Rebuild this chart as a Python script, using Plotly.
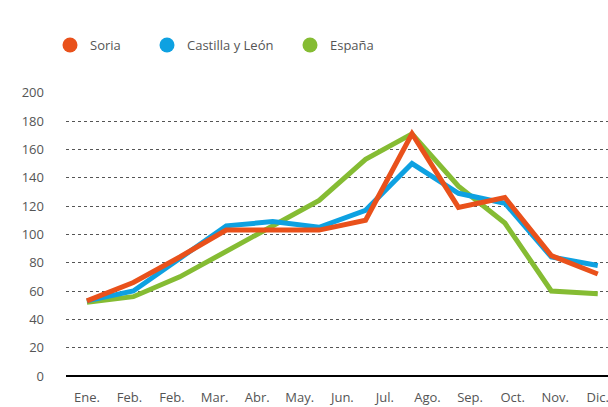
import plotly.graph_objects as go

tick_labels = ["Ene.", "Feb.", "Feb.", "Mar.", "Abr.", "May.", "Jun.", "Jul.",
               "Ago.", "Sep.", "Oct.", "Nov.", "Dic."]
series_names = ["Soria", "Castilla y León", "España"]
soria = [53, 66, 84, 103, 103, 103, 110, 171, 119, 126, 85, 72]
castilla = [53, 60, 83, 106, 109, 105, 117, 150, 129, 122, 84, 78]
espana = [52, 56, 70, 88, 106, 124, 153, 171, 134, 108, 60, 58]
colors = {"Soria": "#E9511B", "Castilla y León": "#0EA1E1", "España": "#85BC33"}

W, H = 608, 407
n = len(soria)
xs = list(range(n))
tickvals = [i * (n - 1) / (len(tick_labels) - 1) for i in range(len(tick_labels))]

fig = go.Figure()
data = {"Soria": soria, "Castilla y León": castilla, "España": espana}
for name in ["España", "Castilla y León", "Soria"]:
    fig.add_trace(go.Scatter(x=xs, y=data[name], mode="lines", name=name,
                             line=dict(color=colors[name], width=5),
                             showlegend=False, hoverinfo="skip"))

legend_ids = ["legend", "legend2", "legend3"]
legend_left_px = [50, 147, 290]
for name, lid in zip(series_names, legend_ids):
    fig.add_trace(go.Scatter(x=[None], y=[None], mode="markers", name=name,
                             legend=lid,
                             marker=dict(color=colors[name], size=15, symbol="circle")))

legend_common = dict(orientation="h", xref="container", yref="container",
                     xanchor="left", yanchor="middle",
                     font=dict(size=13, color="#555555"),
                     bgcolor="rgba(0,0,0,0)")
layout_legends = {}
for lid, px in zip(legend_ids, legend_left_px):
    layout_legends[lid] = dict(legend_common, x=px / W, y=1 - 45 / H)

fig.update_layout(
    width=W, height=H,
    margin=dict(l=66, r=0, t=92, b=31, autoexpand=False),
    paper_bgcolor="white", plot_bgcolor="white",
    font=dict(family="Open Sans", size=13, color="#555555"),
    xaxis=dict(range=[-0.45, 11.22], tickmode="array", tickvals=tickvals,
               ticktext=tick_labels, showgrid=False, zeroline=False,
               showline=False, ticks="", ticklabelstandoff=12, automargin=False,
               ticklabeloverflow="allow",
               tickfont=dict(size=13, color="#555555")),
    yaxis=dict(range=[0, 200.5], tickmode="array", tickvals=list(range(0, 201, 20)),
               showgrid=True, gridcolor="#555555", griddash="dot", gridwidth=1,
               zeroline=True, zerolinecolor="#000000", zerolinewidth=2,
               showline=False, ticks="", ticklabelstandoff=21, automargin=False,
               tickfont=dict(size=13, color="#555555")),
    **layout_legends,
)

fig.write_html("out.html", config={"displayModeBar": False},
               post_script="document.body.style.margin='0';document.body.style.overflow='hidden';")
